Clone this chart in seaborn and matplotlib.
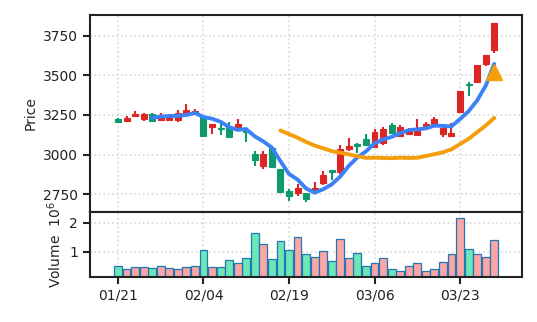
import numpy as np
import pandas as pd
import matplotlib
matplotlib.use("Agg")
import matplotlib.pyplot as plt
import seaborn as sns

# ---------------- data ----------------
dates = ["01/21", "01/22", "01/23", "01/24", "01/27", "01/28", "01/29", "01/30", "01/31", "02/03",
         "02/04", "02/05", "02/06", "02/07", "02/10", "02/11", "02/12", "02/13", "02/14", "02/18",
         "02/19", "02/20", "02/21", "02/24", "02/25", "02/26", "02/27", "02/28", "03/03", "03/04",
         "03/06", "03/09", "03/10", "03/11", "03/12", "03/13", "03/16", "03/17", "03/18", "03/20",
         "03/23", "03/24", "03/25", "03/26", "03/27"]
opens = [3225, 3210, 3246, 3222, 3254, 3218, 3217, 3218, 3256, 3254,
         3235, 3172, 3170, 3176, 3155, 3150, 3002, 2930, 3040, 2908,
         2772, 2760, 2756, 2773, 2823, 2902, 2891, 3034, 3065, 3097,
         3050, 3075, 3187, 3118, 3130, 3124, 3166, 3193, 3130, 3120,
         3267, 3442, 3456, 3570, 3660]
highs = [3232, 3244, 3275, 3263, 3262, 3262, 3258, 3280, 3320, 3288,
         3240, 3195, 3198, 3204, 3225, 3156, 3023, 3023, 3050, 2910,
         2782, 2815, 2760, 2830, 2897, 2903, 3061, 3103, 3076, 3130,
         3160, 3176, 3198, 3186, 3166, 3225, 3208, 3236, 3176, 3198,
         3403, 3460, 3567, 3630, 3830]
lows = [3200, 3208, 3237, 3214, 3208, 3212, 3212, 3208, 3254, 3252,
        3112, 3128, 3124, 3110, 3153, 3082, 2925, 2912, 2918, 2757,
        2710, 2741, 2700, 2770, 2810, 2840, 2878, 3025, 3008, 3055,
        3040, 3060, 3136, 3110, 3124, 3122, 3155, 3180, 3113, 3118,
        3265, 3372, 3453, 3558, 3640]
closes = [3205, 3231, 3255, 3254, 3210, 3250, 3246, 3260, 3282, 3276,
          3120, 3193, 3163, 3113, 3192, 3142, 2965, 3002, 2920, 2763,
          2740, 2788, 2720, 2790, 2870, 2893, 3038, 3055, 3057, 3059,
          3145, 3160, 3138, 3172, 3155, 3170, 3191, 3223, 3166, 3138,
          3401, 3436, 3565, 3628, 3828]
volumes = [0.52, 0.41, 0.48, 0.48, 0.43, 0.52, 0.43, 0.40, 0.46, 0.52,
           1.04, 0.48, 0.48, 0.70, 0.60, 0.77, 1.63, 1.25, 0.74, 1.36,
           1.05, 1.50, 0.91, 0.83, 1.01, 0.69, 1.43, 0.77, 0.94, 0.50,
           0.61, 0.77, 0.39, 0.33, 0.50, 0.60, 0.34, 0.39, 0.64, 0.92,
           2.15, 1.08, 0.92, 0.82, 1.40]  # in 10^6
signal_pos = [44]
signal_price = [3520]
price_ticks = [2750, 3000, 3250, 3500, 3750]
vol_ticks = [1, 2]
tick_every = 10

# ---------------- styling ----------------
RED = "#dc2626"
GREEN = "#0e9a6c"
PINK = "#fca5a5"
MINT = "#6ee7b7"
BLUE = "#3b82f6"
ORANGE = "#f59e0b"
EDGE = "#1f77b4"

sns.set_theme(style="ticks")
plt.rcParams.update({
    "font.family": ["DejaVu Sans"],
    "font.size": 10,
    "axes.labelsize": 10,
    "xtick.labelsize": 10,
    "ytick.labelsize": 10,
    "axes.linewidth": 1.5,
    "axes.edgecolor": "#222222",
    "xtick.major.width": 1.5,
    "ytick.major.width": 1.5,
    "xtick.major.size": 5,
    "ytick.major.size": 5,
    "xtick.color": "#222222",
    "ytick.color": "#222222",
})

df = pd.DataFrame({"date": dates, "open": opens, "high": highs, "low": lows,
                   "close": closes, "volume": volumes})
df["pos"] = np.arange(len(df))
df["up"] = df["close"] >= df["open"]
df["ma5"] = df["close"].rolling(5).mean()
df["ma20"] = df["close"].rolling(20).mean()
df["dir"] = np.where(df["up"], "up", "down")

fig = plt.figure(figsize=(5.37, 3.22), dpi=100)
ax1 = fig.add_axes([0.1676, 0.3416, 0.8045, 0.6118])
ax2 = fig.add_axes([0.1676, 0.1413, 0.8045, 0.2003])

# candles
ccol = np.where(df["up"], RED, GREEN)
ax1.vlines(df["pos"], df["low"], df["high"], colors=ccol, linewidth=1.5, zorder=2)
body_lo = np.minimum(df["open"], df["close"])
body_h = np.abs(df["close"] - df["open"])
ax1.bar(df["pos"], body_h, bottom=body_lo, width=0.7, color=ccol,
        edgecolor=ccol, linewidth=0.8, zorder=3)

# moving averages
sns.lineplot(data=df, x="pos", y="ma5", ax=ax1, color=BLUE, linewidth=2.8, zorder=4)
sns.lineplot(data=df, x="pos", y="ma20", ax=ax1, color=ORANGE, linewidth=2.8, zorder=4)
ax1.plot(signal_pos, signal_price, marker="^", linestyle="none", color=ORANGE,
         markersize=11, zorder=5)

ax1.set_ylim(2638, 3880)
ax1.set_yticks(price_ticks)
ax1.set_ylabel("Price")
ax1.set_xlabel("")
ax1.set_xlim(-3.27, 47.25)
ax1.set_xticks(df["pos"][::tick_every])
ax1.tick_params(axis="x", bottom=False, labelbottom=False)
ax1.grid(True, linestyle=":", color="#d9d9d9", linewidth=1.2, zorder=0)
ax1.set_axisbelow(True)

# volume
sns.barplot(data=df, x="pos", y="volume", hue="dir", palette={"up": PINK, "down": MINT},
            dodge=False, width=0.92, saturation=1, edgecolor=EDGE, linewidth=0.9,
            legend=False, ax=ax2, zorder=2)
ax2.set_xlim(-3.27, 47.25)
ax2.set_xticks(df["pos"][::tick_every])
ax2.set_xticklabels(df["date"][::tick_every])
ax2.set_ylim(0.14, 2.37)
ax2.set_yticks(vol_ticks)
ax2.set_ylabel("Volume  $10^6$")
ax2.set_xlabel("")
ax2.grid(True, linestyle=":", color="#d9d9d9", linewidth=1.2, zorder=0)
ax2.set_axisbelow(True)

for ax in (ax1, ax2):
    for s in ax.spines.values():
        s.set_visible(True)
        s.set_linewidth(1.5)
        s.set_color("#222222")

fig.savefig("out.png", dpi=100)
